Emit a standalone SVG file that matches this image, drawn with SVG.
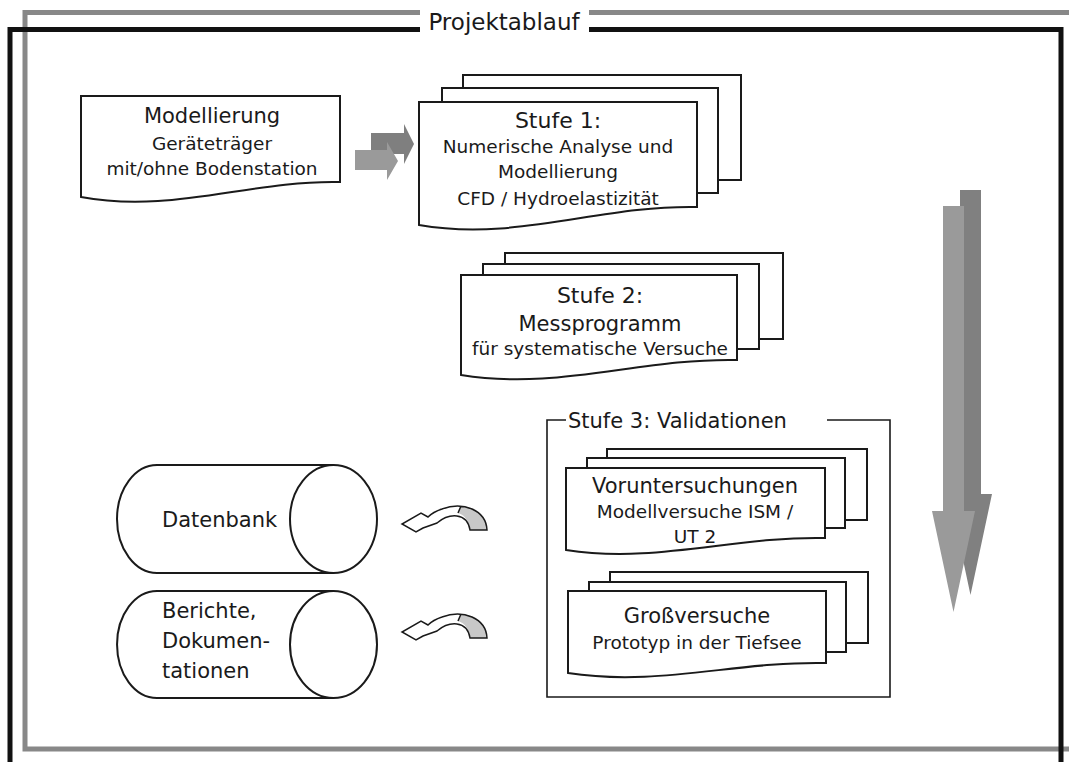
<svg xmlns="http://www.w3.org/2000/svg" width="1069" height="762" viewBox="0 0 1069 762">
<style>
text{font-family:"DejaVu Sans","Liberation Sans",sans-serif;fill:#1a1a1a}
.c{text-anchor:middle}
.big{font-size:21px}
.sm{font-size:18.5px}
.sh{fill:#fff;stroke:#1a1a1a;stroke-width:2}
.thin{fill:none;stroke:#1a1a1a;stroke-width:1.6}
.fg{fill:none;stroke:#888;stroke-width:5}
.fb{fill:none;stroke:#111;stroke-width:5}
.cv{fill:none;stroke:#1a1a1a;stroke-width:1.5;stroke-linejoin:miter}
</style>
<rect width="1069" height="762" fill="#fff"/>
<g id="frame">
<path class="fg" d="M420 12.5 H25 V749 H1069"/>
<path class="fg" d="M589 12.5 H1069"/>
<path class="fb" d="M420 29.5 H10 V762"/>
<path class="fb" d="M589 29.5 H1061 V762"/>
<text x="504" y="30" class="c" style="font-size:23px">Projektablauf</text>
</g>
<g id="modellierung">
<path class="sh" d="M81 96 H340 V182 C250 180 172 214 81 197 Z"/>
<text x="212" y="123" class="c big">Modellierung</text>
<text x="212" y="150" class="c sm">Geräteträger</text>
<text x="212" y="175" class="c sm">mit/ohne Bodenstation</text>
</g>
<g id="stufe1">
<rect class="sh" x="463" y="75" width="278" height="105"/>
<rect class="sh" x="442" y="88" width="276" height="105"/>
<path class="sh" d="M419 102 H697 V207 C600 205 516 242 419 225 Z"/>
<text x="558" y="128" class="c" style="font-size:22px">Stufe 1:</text>
<text x="558" y="153" class="c sm">Numerische Analyse und</text>
<text x="558" y="178" class="c sm">Modellierung</text>
<text x="558" y="205" class="c sm">CFD / Hydroelastizität</text>
</g>
<g id="stufe2">
<rect class="sh" x="505" y="253" width="278" height="86"/>
<rect class="sh" x="483" y="264" width="276" height="85"/>
<path class="sh" d="M461 275 H737 V360 C640 358 558 391 461 375 Z"/>
<text x="600" y="303" class="c" style="font-size:22px">Stufe 2:</text>
<text x="600" y="331" class="c" style="font-size:21px">Messprogramm</text>
<text x="600" y="355" class="c sm">für systematische Versuche</text>
</g>
<g id="stufe3">
<path class="thin" d="M566 420 H547 V697 H890 V420 H827"/>
<text x="568" y="428" class="big">Stufe 3: Validationen</text>
</g>
<g id="voruntersuchungen">
<rect class="sh" x="607" y="449" width="260" height="71"/>
<rect class="sh" x="587" y="458" width="258" height="70"/>
<path class="sh" d="M566 468 H825 V538 C735 536 656 564 566 550 Z"/>
<text x="695" y="493" class="c big">Voruntersuchungen</text>
<text x="695" y="518" class="c sm">Modellversuche ISM /</text>
<text x="695" y="543" class="c sm">UT 2</text>
</g>
<g id="grossversuche">
<rect class="sh" x="610" y="572" width="258" height="71"/>
<rect class="sh" x="589" y="582" width="257" height="70"/>
<path class="sh" d="M568 591 H826 V663 C736 661 658 687 568 673 Z"/>
<text x="697" y="623" class="c big">Großversuche</text>
<text x="697" y="649" class="c sm">Prototyp in der Tiefsee</text>
</g>
<g id="datenbank">
<path class="sh" d="M333 465 H157 A40 54 0 0 0 157 573 H333"/>
<ellipse class="sh" cx="333.5" cy="519" rx="43.5" ry="54"/>
<text x="162" y="527" class="big">Datenbank</text>
</g>
<g id="berichte">
<path class="sh" d="M333 591 H157 A40 53.5 0 0 0 157 698 H333"/>
<ellipse class="sh" cx="333.5" cy="644.5" rx="43.5" ry="53.5"/>
<text x="162" y="618" class="big">Berichte,</text>
<text x="162" y="648" class="big">Dokumen-</text>
<text x="162" y="678" class="big">tationen</text>
</g>
<g id="connectors">
<g id="small-arrows">
<path fill="#7f7f7f" d="M371 133 H404 V124 L414 144 L404 164 V154 H371 Z"/>
<path fill="#9a9a9a" d="M355 150 H387 V142 L398 161 L387 180 V170 H355 Z"/>
</g>
<g id="down-arrows">
<path fill="#808080" d="M960 190 H981 V494 H992 L970.5 595 L949 494 H960 Z"/>
<path fill="#9a9a9a" d="M943 206 H964 V511 H975 L953.5 612 L932 511 H943 Z"/>
</g>
<g id="curved1">
<path fill="#c8c8c8" d="M470 530 C469 521 465 515 458 513 L461 506 C476 507 486 516 487 530 Z"/>
<path class="cv" d="M487 530 C486 510 463 501 442 509 C436 511 431 514 428 517 L421 513 L402 524 L416 532 L423 528 L437 523 C449 513 467 512 470 530 Z M461 506 L458 513"/>
</g>
<g id="curved2">
<path fill="#c8c8c8" d="M470 638 C469 629 465 623 458 621 L461 614 C476 615 486 624 487 638 Z"/>
<path class="cv" d="M487 638 C486 618 463 609 442 617 C436 619 431 622 428 625 L421 621 L402 632 L416 640 L423 636 L437 631 C449 621 467 620 470 638 Z M461 614 L458 621"/>
</g>
</g>
</svg>
